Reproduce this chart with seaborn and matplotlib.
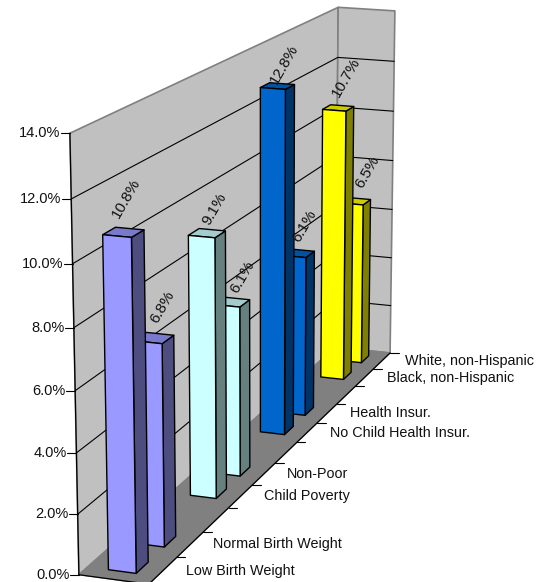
import numpy as np
import matplotlib
matplotlib.use("Agg")
import matplotlib.pyplot as plt
import seaborn as sns

categories = ["Low Birth Weight", "Normal Birth Weight", "", "Child Poverty", "Non-Poor", "",
              "No Child Health Insur.", "Health Insur.", "", "Black, non-Hispanic", "White, non-Hispanic"]
rates = [10.8, 6.8, None, 9.1, 6.1, None, 12.8, 6.1, None, 10.7, 6.5]
value_ticks = [0, 2, 4, 6, 8, 10, 12, 14]
group_colors = ["#9999FF", "#9999FF", None, "#CCFFFF", "#CCFFFF", None,
                "#0066CC", "#0066CC", None, "#FFFF00", "#FFFF00"]
# nudge of each percent label from its bar top, in pixels
label_nudge = [(3, -34), (8, -31), None, (7, -24), (11, -25), None, (7, -22), (6, -27), None, (8, -31), (12, -29)]

n_cat = len(categories)
z_max = value_ticks[-1]

# camera calibration: box position (across, depth, value) -> picture pixel
calib_box = [(0, 0, 0), (0, 0, 14), (0, 11, 0), (0, 11, 14), (1, 11, 0), (1, 11, 14),
             (0, 0, 4), (0, 0, 2), (0, 0, 12), (0, 11, 12), (1, 11, 12), (1, 11, 2),
             (1, 1, 0), (1, 2, 0), (1, 3, 0), (1, 4, 0), (1, 5, 0), (1, 6, 0),
             (1, 7, 0), (1, 8, 0), (1, 9, 0), (1, 10, 0), (1, 0, 0)]
calib_px = [(79, 574.5), (70, 133), (335.5, 347), (338, 7), (390, 352), (395, 11),
            (76, 453), (77.5, 514.5), (71.5, 199), (338, 58), (394, 61), (390, 306),
            (177, 557), (203, 532), (228, 508), (253, 485), (275, 463), (297, 443),
            (317, 423), (337, 404), (356, 387), (373, 369), (149, 583.5)]

rows, rhs = [], []
for (u, d, z), (px, py) in zip(calib_box, calib_px):
    rows.append([u, d, z, 1, 0, 0, 0, 0, -px * u, -px * d, -px * z])
    rhs.append(px)
    rows.append([0, 0, 0, 0, u, d, z, 1, -py * u, -py * d, -py * z])
    rhs.append(py)
sol = np.linalg.lstsq(np.array(rows, float), np.array(rhs, float), rcond=None)[0]
P = np.append(sol, 1.0).reshape(3, 4)


def project(u, d, z):
    q = P @ np.array([u, d, z, 1.0])
    return q[0] / q[2], q[1] / q[2]


def face(ax, pts, color, lw=1.0, edge="black", zorder=3):
    xy = np.array([project(*p) for p in pts])
    ax.fill(xy[:, 0], xy[:, 1], facecolor=color, edgecolor=edge, linewidth=lw,
            joinstyle="round", zorder=zorder)


def shade(color, f):
    r, g, b = matplotlib.colors.to_rgb(color)
    return (r * f, g * f, b * f)


sns.set_theme(style="white")
plt.rcParams["font.family"] = ["Liberation Sans", "DejaVu Sans"]

fig = plt.figure(figsize=(5.37, 5.82), dpi=100)
ax = fig.add_axes([0, 0, 1, 1])
ax.set_xlim(0, 537)
ax.set_ylim(582, 0)
ax.axis("off")

# walls and floor
wall = "#C0C0C0"
face(ax, [(0, 0, 0), (0, 11, 0), (0, 11, z_max), (0, 0, z_max)], wall, lw=1.2, edge="#808080", zorder=1)
face(ax, [(0, 11, 0), (1, 11, 0), (1, 11, z_max), (0, 11, z_max)], wall, lw=1.2, edge="#808080", zorder=1)
face(ax, [(0, 0, 0), (1, 0, 0), (1, 11, 0), (0, 11, 0)], "#808080", edge="#808080", zorder=1)

for v in value_ticks[1:-1]:
    line = np.array([project(0, 0, v), project(0, 11, v), project(1, 11, v)])
    ax.plot(line[:, 0], line[:, 1], color="black", lw=0.8, zorder=2)

# axis lines and ticks
edge = np.array([project(0, 0, 0), project(0, 0, z_max)])
ax.plot(edge[:, 0], edge[:, 1], color="black", lw=0.9, zorder=2)
edge = np.array([project(0, 0, 0), project(1, 0, 0), project(1, 11, 0)])
ax.plot(edge[:, 0], edge[:, 1], color="black", lw=0.9, zorder=2)

for v in value_ticks:
    x, y = project(0, 0, v)
    ax.plot([x - 9, x], [y, y], color="black", lw=0.8, zorder=2)
    ax.text(x - 9.5, y, f"{v:.1f}%", ha="right", va="center", fontsize=10.5, color="#111111")

for k in range(n_cat + 1):
    x, y = project(1, k, 0)
    ax.plot([x, x + 8.5], [y, y], color="black", lw=0.8, zorder=2)

for k, name in enumerate(categories):
    if name:
        x, y = project(1, k + 0.5, 0)
        ax.text(x + 23, y, name, ha="left", va="center", fontsize=10.4, color="#111111")

# bars, back to front
u0, u1 = 0.30, 0.70
d0, d1 = 0.29, 0.71
for k in reversed(range(n_cat)):
    val = rates[k]
    if val is None:
        continue
    c = group_colors[k]
    zo = 3 + (n_cat - k) * 0.1
    a, b = k + d0, k + d1
    face(ax, [(u1, a, 0), (u1, b, 0), (u1, b, val), (u1, a, val)], shade(c, 0.5), zorder=zo)
    face(ax, [(u0, a, val), (u1, a, val), (u1, b, val), (u0, b, val)], shade(c, 0.8), zorder=zo)
    face(ax, [(u0, a, 0), (u1, a, 0), (u1, a, val), (u0, a, val)], c, zorder=zo)

# percent labels go over every bar
for k in range(n_cat):
    if rates[k] is None:
        continue
    x, y = project(0.5, k + 0.5, rates[k])
    dx, dy = label_nudge[k]
    ax.text(x + dx, y + dy, f"{rates[k]:.1f}%", rotation=60, rotation_mode="anchor",
            ha="center", va="center", fontsize=11, color="#111111", zorder=10)

sns.despine(ax=ax, left=True, bottom=True)
fig.savefig("out.png", dpi=100)
